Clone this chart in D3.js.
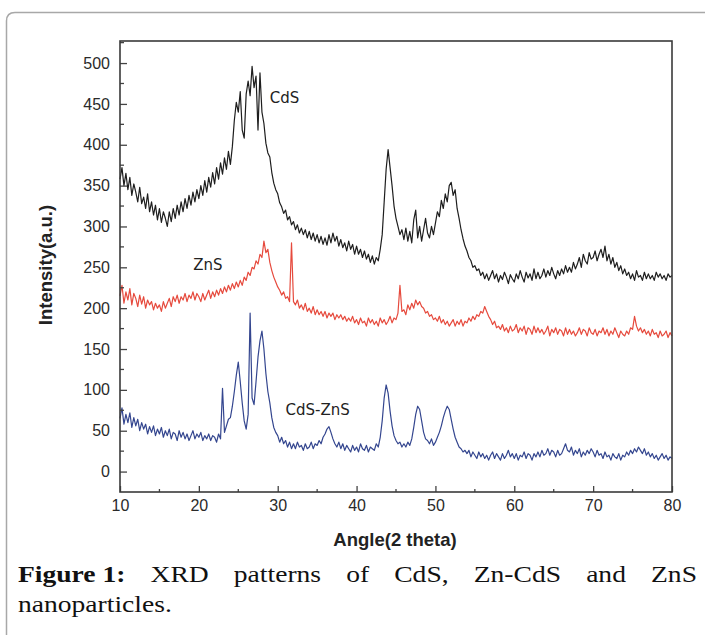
<!DOCTYPE html>
<html>
<head>
<meta charset="utf-8">
<script src="https://cdn.jsdelivr.net/npm/d3@7"></script>
<style>
  body { margin: 0; background: #fff; }
  svg { display: block; }
  .axis-title { font-family: "Liberation Sans", Arial, sans-serif; font-size: 18.5px; font-weight: bold; fill: #222; }
  .series-label { font-family: "DejaVu Sans", Verdana, sans-serif; font-size: 15px; fill: #222; }
  .caption { font-family: "Liberation Serif", "Times New Roman", serif; font-size: 23px; fill: #111; }
</style>
</head>
<body>
<svg id="chart" width="705" height="635"></svg>
<script>
// Sampling grid of the diffractograms (degrees 2θ)
const ANGLE_START = 10;
const ANGLE_STEP = 0.25;

const xTicks = [10, 20, 30, 40, 50, 60, 70, 80];
const yTicks = [0, 50, 100, 150, 200, 250, 300, 350, 400, 450, 500];

const seriesNames = ["CdS", "ZnS", "CdS-ZnS"];

// CdS, one row per degree (4 samples per degree)
const cdsValues = [
  358, 372, 350, 365,  345, 360, 338, 352,  342, 330, 348, 328,  336, 322, 340, 318,
  330, 314, 326, 308,  322, 305, 318, 310,  300, 318, 306, 322,  310, 326, 314, 330,
  318, 334, 322, 338,  326, 342, 330, 345,  334, 350, 338, 356,  342, 360, 348, 366,
  352, 372, 358, 378,  364, 384, 370, 392,  376, 398, 430, 452,  440, 465, 418, 408,
  462, 478, 460, 496,  470, 484, 418, 488,  440, 426, 402, 390,  385, 366, 353, 345,
  340, 329, 324, 316,  320, 308, 312, 302,  306, 296, 302, 292,  298, 290, 296, 286,
  294, 284, 292, 282,  290, 280, 288, 278,  286, 277, 290, 280,  292, 282, 288, 276,
  284, 274, 280, 270,  282, 272, 278, 266,  276, 266, 272, 262,  270, 260, 266, 256,
  264, 254, 262, 258,  272, 290, 330, 370,  394, 372, 350, 325,  310, 300, 290, 296,
  284, 298, 282, 294,  280, 308, 320, 286,  300, 282, 296, 310,  292, 286, 300, 290,
  304, 318, 312, 332,  322, 340, 330, 350,  354, 338, 345, 322,  310, 296, 285, 276,
  270, 262, 258, 250,  252, 246, 248, 240,  244, 236, 242, 234,  240, 246, 236, 242,
  232, 240, 235, 244,  238, 230, 241, 236,  232, 242, 236, 246,  238, 232, 244, 237,
  242, 234, 248, 236,  244, 236, 240, 248,  238, 246, 240, 250,  242, 236, 246, 240,
  248, 242, 252, 244,  250, 244, 256, 248,  254, 262, 250, 266,  258, 254, 268, 260,
  262, 270, 258, 266,  272, 262, 276, 258,  266, 254, 262, 250,  256, 246, 252, 242,
  248, 240, 244, 236,  242, 234, 246, 238,  240, 234, 244, 236,  242, 236, 240, 234,
  244, 238, 242, 236,  240, 234, 242, 238,  240
];

// ZnS
const znsValues = [
  215, 228, 206, 220,  210, 224, 204, 218,  212, 202, 216, 205,  214, 200, 210, 204,
  208, 198, 206, 200,  204, 196, 208, 200,  206, 212, 202, 214,  208, 216, 206, 214,
  210, 218, 208, 216,  212, 220, 210, 218,  214, 208, 218, 210,  216, 222, 212, 220,
  214, 222, 216, 224,  218, 226, 220, 228,  222, 230, 224, 232,  226, 234, 228, 238,
  234, 244, 240, 250,  248, 258, 254, 266,  262, 282, 268, 272,  256, 246, 238, 232,
  226, 222, 216, 220,  212, 214, 208, 280,  208, 204, 210, 200,  204, 198, 206, 196,
  200, 194, 202, 192,  198, 192, 196, 190,  196, 188, 194, 190,  194, 186, 192, 188,
  192, 186, 190, 184,  188, 184, 190, 182,  186, 180, 188, 182,  184, 178, 188, 182,
  186, 180, 184, 178,  188, 182, 186, 180,  184, 190, 182, 188,  186, 194, 228, 196,
  198, 192, 204, 198,  206, 200, 210, 204,  208, 202, 200, 194,  196, 190, 192, 186,
  188, 184, 190, 182,  186, 180, 184, 178,  182, 186, 178, 184,  180, 186, 178, 184,
  182, 188, 184, 190,  186, 192, 190, 196,  194, 202, 196, 190,  186, 180, 184, 176,
  178, 174, 180, 172,  176, 170, 178, 172,  174, 180, 170, 176,  172, 178, 168, 176,
  174, 168, 178, 170,  176, 170, 174, 168,  172, 178, 166, 174,  170, 176, 168, 174,
  172, 166, 176, 168,  174, 168, 172, 166,  170, 176, 168, 174,  172, 166, 176, 170,
  168, 174, 166, 172,  170, 176, 168, 174,  166, 172, 168, 176,  170, 164, 172, 168,
  166, 172, 168, 176,  174, 190, 178, 172,  176, 170, 174, 168,  172, 166, 174, 168,
  170, 164, 172, 166,  168, 172, 164, 170,  166
];

// CdS-ZnS
const cdsZnsValues = [
   65,  78,  58,  70,   60,  72,  54,  66,   56,  64,  50,  60,   52,  58,  46,  55,
   48,  56,  44,  52,   46,  54,  42,  50,   44,  52,  40,  48,   46,  38,  50,  42,
   48,  40,  46,  38,   44,  50,  40,  46,   42,  48,  38,  44,   40,  46,  38,  44,
   42,  36,  46,  40,  102,  48,  56,  64,   66,  80,  98, 118,  134, 110,  84,  62,
   52,  70, 194,  90,   82, 110, 140, 160,  172, 150, 120,  98,   84,  66,  54,  48,
   44,  36,  42,  34,   38,  30,  36,  28,   34,  28,  36,  30,   32,  26,  34,  28,
   30,  36,  28,  34,   32,  38,  34,  42,   46,  52,  55,  48,   40,  34,  30,  36,
   28,  34,  26,  32,   28,  24,  32,  26,   30,  24,  34,  28,   26,  32,  24,  30,
   28,  26,  34,  30,   42,  62,  90, 106,   96,  74,  56,  44,   38,  34,  36,  30,
   34,  30,  36,  32,   40,  54,  70,  80,   76,  62,  48,  40,   38,  34,  40,  32,
   36,  42,  48,  56,   66,  74,  80,  76,   64,  52,  42,  36,   30,  28,  24,  26,
   22,  26,  18,  24,   20,  16,  24,  18,   22,  16,  20,  14,   20,  24,  16,  22,
   18,  14,  22,  16,   20,  26,  18,  22,   16,  22,  14,  20,   18,  24,  16,  22,
   20,  14,  22,  18,   24,  18,  26,  20,   22,  28,  20,  26,   24,  18,  26,  20,
   22,  28,  34,  26,   24,  30,  20,  26,   22,  28,  18,  24,   20,  26,  22,  28,
   24,  18,  26,  20,   22,  16,  24,  18,   20,  14,  22,  18,   16,  22,  14,  20,
   18,  24,  20,  26,   22,  28,  24,  30,   26,  22,  28,  20,   24,  18,  22,  16,
   20,  14,  18,  22,   16,  20,  14,  18,   16
];

const captionWords = ["XRD", "patterns", "of", "CdS,", "Zn-CdS", "and", "ZnS"];

// ---- layout

const margin = {left: 120, right: 33, top: 41, bottom: 143};
const width = 705;
const height = 635;

const svg = d3.select("#chart");

// Outer page frame (rounded corner, cut by the picture edges)
svg.append("path")
  .attr("d", "M6.5,640 L6.5,21 Q6.5,12.5 15,12.5 L710,12.5")
  .attr("fill", "none")
  .attr("stroke", "#a8a8a8")
  .attr("stroke-width", 1.5);

const x = d3.scaleLinear()
  .domain([10, 80])
  .range([margin.left, width - margin.right]);
const y = d3.scaleLinear()
  .domain([-25, 527])
  .range([height - margin.bottom, margin.top]);

const toPoints = (vals) => vals.map((v, i) => [ANGLE_START + i * ANGLE_STEP, v]);

const series = [
  {name: seriesNames[0], values: cdsValues, color: "#1e1e1e"},
  {name: seriesNames[1], values: znsValues, color: "#e64a3d"},
  {name: seriesNames[2], values: cdsZnsValues, color: "#34468f"}
];

const line = d3.line()
  .x((d) => x(d[0]))
  .y((d) => y(d[1]));

const gLines = svg.append("g");
series.forEach((s) => {
  gLines.append("path")
    .attr("d", line(toPoints(s.values)))
    .attr("fill", "none")
    .attr("stroke", s.color)
    .attr("stroke-width", 1.2)
    .attr("stroke-linejoin", "round");
});

// Series labels
const labelPos = [
  {text: seriesNames[0], ax: 29.0, v: 458},
  {text: seriesNames[1], ax: 19.3, v: 253},
  {text: seriesNames[2], ax: 31.0, v: 76}
];
svg.append("g").selectAll("text")
  .data(labelPos)
  .join("text")
  .attr("class", "series-label")
  .attr("x", (d) => x(d.ax))
  .attr("y", (d) => y(d.v))
  .attr("dy", "0.35em")
  .text((d) => d.text);

// Axes: ticks point inward, minor ticks between major ones
const xMinor = d3.range(15, 80, 10);
const yMinor = d3.range(25, 527, 50);

const styleAxis = (g) => {
  g.attr("font-family", "'Liberation Sans', Arial, sans-serif").attr("font-size", 16);
  g.select(".domain").remove();
  g.selectAll(".tick line").attr("stroke", "#444").attr("stroke-width", 1.3);
  g.selectAll(".tick text").attr("fill", "#2a2a2a");
};

const xAxis = d3.axisBottom(x)
  .tickValues(xTicks)
  .tickSizeInner(-6)
  .tickSizeOuter(0)
  .tickPadding(8);
const gX = svg.append("g")
  .attr("transform", `translate(0, ${height - margin.bottom})`)
  .call(xAxis)
  .call(styleAxis);
gX.selectAll(".minor")
  .data(xMinor)
  .join("line")
  .attr("x1", (d) => x(d)).attr("x2", (d) => x(d))
  .attr("y1", 0).attr("y2", -3)
  .attr("stroke", "#444").attr("stroke-width", 1.3);

const yAxis = d3.axisLeft(y)
  .tickValues(yTicks)
  .tickSizeInner(-7)
  .tickSizeOuter(0)
  .tickPadding(10);
const gY = svg.append("g")
  .attr("transform", `translate(${margin.left}, 0)`)
  .call(yAxis)
  .call(styleAxis);
gY.selectAll(".minor")
  .data(yMinor)
  .join("line")
  .attr("y1", (d) => y(d)).attr("y2", (d) => y(d))
  .attr("x1", 0).attr("x2", 4)
  .attr("stroke", "#444").attr("stroke-width", 1.3);

// Plot frame
svg.append("rect")
  .attr("x", margin.left)
  .attr("y", margin.top)
  .attr("width", width - margin.left - margin.right)
  .attr("height", height - margin.top - margin.bottom)
  .attr("fill", "none")
  .attr("stroke", "#3a3a3a")
  .attr("stroke-width", 1.6);

// Axis titles
svg.append("text")
  .attr("class", "axis-title")
  .attr("x", 395)
  .attr("y", 546)
  .attr("text-anchor", "middle")
  .text("Angle(2 theta)");
svg.append("text")
  .attr("class", "axis-title")
  .attr("transform", `translate(52, 265) rotate(-90)`)
  .attr("text-anchor", "middle")
  .text("Intensity(a.u.)");

// Caption: the source face is wider, so stretch horizontally; first line justified
const capLeft = 18, capRight = 697, capY1 = 582, capY2 = 612;
const gCap = svg.append("g").attr("class", "caption");
const lastLine = gCap.append("text")
  .attr("y", capY2)
  .text("nanoparticles.");
const sx = 154 / lastLine.node().getComputedTextLength();
gCap.attr("transform", `translate(${capLeft}, 0) scale(${sx}, 1)`);
const head = gCap.append("text")
  .attr("x", 0).attr("y", capY1)
  .attr("font-weight", "bold")
  .text("Figure 1:");
const wordNodes = captionWords.map((w) => gCap.append("text").attr("y", capY1).text(w));
const headW = head.node().getComputedTextLength();
const widths = wordNodes.map((n) => n.node().getComputedTextLength());
const span = (capRight - capLeft) / sx;
const gap = (span - headW - d3.sum(widths)) / captionWords.length;
let cx = headW + gap;
wordNodes.forEach((n, i) => {
  n.attr("x", cx);
  cx += widths[i] + gap;
});
</script>
</body>
</html>
